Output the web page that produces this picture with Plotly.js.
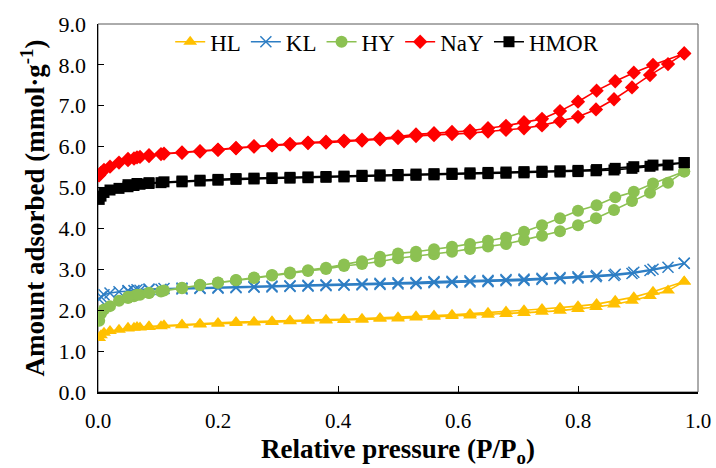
<!DOCTYPE html>
<html>
<head>
<meta charset="utf-8">
<script src="https://cdn.plot.ly/plotly-3.0.1.min.js"></script>
<style>html,body{margin:0;padding:0;background:#fff;}#chart{width:716px;height:468px;}</style>
</head>
<body>
<div id="chart"></div>
<script>
// Relative pressure points (adsorption branch, then desorption branch)
const pAds = [0.002,0.005,0.01,0.02,0.035,0.05,0.06,0.07,0.085,0.105,0.14,0.17,0.20,0.23,0.26,0.29,0.32,0.35,0.38,0.41,0.44,0.47,0.50,0.53,0.56,0.59,0.62,0.65,0.68,0.71,0.74,0.77,0.80,0.83,0.86,0.89,0.92,0.95,0.977];
const pDes = [0.977,0.925,0.893,0.862,0.831,0.80,0.77,0.74,0.71,0.68,0.65,0.62,0.59,0.56,0.53,0.50,0.47,0.44,0.41,0.38,0.35,0.32,0.29,0.26,0.23,0.20,0.17,0.14,0.11,0.085,0.065,0.05];

const names = ["HL","KL","HY","NaY","HMOR"];

const hlAds = [1.32,1.39,1.45,1.49,1.52,1.55,1.57,1.58,1.59,1.61,1.63,1.65,1.67,1.69,1.70,1.71,1.73,1.74,1.75,1.76,1.77,1.79,1.80,1.82,1.84,1.86,1.87,1.89,1.91,1.93,1.96,1.99,2.03,2.08,2.14,2.23,2.35,2.48,2.70];
const hlDes = [2.70,2.45,2.32,2.23,2.15,2.10,2.06,2.03,2.00,1.97,1.94,1.91,1.89,1.87,1.85,1.83,1.81,1.79,1.78,1.77,1.76,1.75,1.73,1.72,1.71,1.69,1.67,1.65,1.63,1.61,1.59,1.57];

const klAds = [2.27,2.33,2.38,2.42,2.45,2.47,2.48,2.49,2.50,2.51,2.52,2.53,2.54,2.55,2.56,2.57,2.58,2.59,2.60,2.61,2.62,2.63,2.64,2.65,2.67,2.68,2.69,2.70,2.72,2.73,2.75,2.77,2.79,2.82,2.85,2.90,2.97,3.05,3.15];
const klDes = [3.15,3.00,2.93,2.88,2.85,2.82,2.80,2.78,2.76,2.75,2.73,2.72,2.71,2.70,2.68,2.67,2.66,2.64,2.63,2.62,2.61,2.60,2.59,2.58,2.57,2.56,2.55,2.54,2.53,2.52,2.50,2.48];

const hyAds = [1.74,1.92,2.02,2.10,2.23,2.30,2.34,2.38,2.42,2.46,2.54,2.61,2.67,2.73,2.79,2.85,2.90,2.96,3.01,3.08,3.13,3.19,3.27,3.32,3.37,3.43,3.50,3.56,3.62,3.72,3.82,3.93,4.08,4.25,4.45,4.67,4.87,5.12,5.39];
const hyDes = [5.39,5.10,4.90,4.76,4.57,4.43,4.25,4.08,3.92,3.78,3.70,3.62,3.55,3.49,3.43,3.39,3.31,3.20,3.12,3.04,2.98,2.92,2.86,2.80,2.74,2.68,2.62,2.55,2.48,2.43,2.38,2.33];

const nayAds = [5.30,5.36,5.43,5.51,5.61,5.67,5.71,5.75,5.77,5.82,5.85,5.88,5.92,5.96,6.00,6.03,6.05,6.09,6.10,6.13,6.15,6.18,6.21,6.26,6.28,6.31,6.33,6.37,6.41,6.45,6.52,6.62,6.73,6.91,7.16,7.45,7.75,8.02,8.28];
const nayDes = [8.28,8.00,7.81,7.60,7.37,7.10,6.87,6.68,6.60,6.51,6.45,6.39,6.36,6.33,6.30,6.25,6.20,6.17,6.15,6.12,6.10,6.07,6.04,6.01,5.97,5.93,5.89,5.86,5.83,5.79,5.74,5.70];

const hmorAds = [4.71,4.79,4.88,4.94,4.98,5.02,5.05,5.08,5.10,5.12,5.14,5.16,5.18,5.20,5.21,5.22,5.23,5.24,5.25,5.26,5.27,5.28,5.29,5.30,5.31,5.32,5.33,5.34,5.35,5.36,5.37,5.38,5.39,5.41,5.43,5.47,5.52,5.55,5.61];
const hmorDes = [5.61,5.55,5.51,5.47,5.44,5.42,5.41,5.40,5.39,5.38,5.37,5.36,5.35,5.34,5.33,5.32,5.31,5.30,5.28,5.27,5.26,5.25,5.24,5.23,5.22,5.20,5.18,5.16,5.14,5.12,5.10,5.07];

const xTickVals = [0,0.2,0.4,0.6,0.8,1.0];
const yTickVals = [0,1,2,3,4,5,6,7,8,9];

const styles = {
  HL:   {color:"#FFC000", symbol:"triangle-up", size:12},
  KL:   {color:"#2E7EC4", symbol:"x-thin-open", size:11},
  HY:   {color:"#8CC152", symbol:"circle", size:12},
  NaY:  {color:"#FF0000", symbol:"diamond", size:11},
  HMOR: {color:"#000000", symbol:"square", size:11}
};
const series = {
  HL:[hlAds,hlDes], KL:[klAds,klDes], HY:[hyAds,hyDes], NaY:[nayAds,nayDes], HMOR:[hmorAds,hmorDes]
};

const traces = names.map(n => {
  const s = styles[n];
  const marker = {symbol:s.symbol, size:s.size, color:s.color};
  if (n === "KL") marker.line = {color:s.color, width:1.5};
  return {
    type:"scatter", mode:"lines+markers", name:n,
    x: pAds.concat(pDes),
    y: series[n][0].concat(series[n][1]),
    line:{color:s.color, width:1.6},
    marker: marker
  };
});

const font = "Liberation Serif, Times New Roman, Times, serif";
const layout = {
  width:716, height:468,
  margin:{l:98, r:18, t:24, b:76},
  paper_bgcolor:"#fff", plot_bgcolor:"#fff",
  font:{family:font, color:"#000", size:20},
  showlegend:true,
  legend:{orientation:"h", x:0.482, xanchor:"center", y:1.01, yanchor:"top",
          font:{family:font, size:23, color:"#000"}, bgcolor:"rgba(0,0,0,0)", itemwidth:30, tracegroupgap:0},
  xaxis:{range:[0,1], tickvals:xTickVals, tickformat:".1f", ticks:"inside", ticklen:6, tickcolor:"#000",
         showline:true, linecolor:"#000", linewidth:1.5, showgrid:false, zeroline:false,
         tickfont:{family:font, size:21}, ticklabelstandoff:9,
         title:{text:"<b>Relative pressure (P/P<sub>o</sub>)</b>", font:{family:font, size:27}, standoff:16}},
  yaxis:{range:[0,9], tickvals:yTickVals, tickformat:".1f", ticks:"inside", ticklen:6, tickcolor:"#000",
         showline:true, linecolor:"#000", linewidth:1.5, showgrid:false, zeroline:false,
         tickfont:{family:font, size:22}, ticklabelstandoff:6,
         title:{text:"<b>Amount adsorbed (mmol·g<sup>-1</sup>)</b>", font:{family:font, size:27}, standoff:6}},
  shapes:[{type:"rect", xref:"paper", yref:"paper", x0:0, x1:1, y0:0, y1:1,
           line:{color:"#595959", width:1}, layer:"below"}]
};

Plotly.newPlot("chart", traces, layout, {displayModeBar:false, staticPlot:true});
</script>
</body>
</html>
